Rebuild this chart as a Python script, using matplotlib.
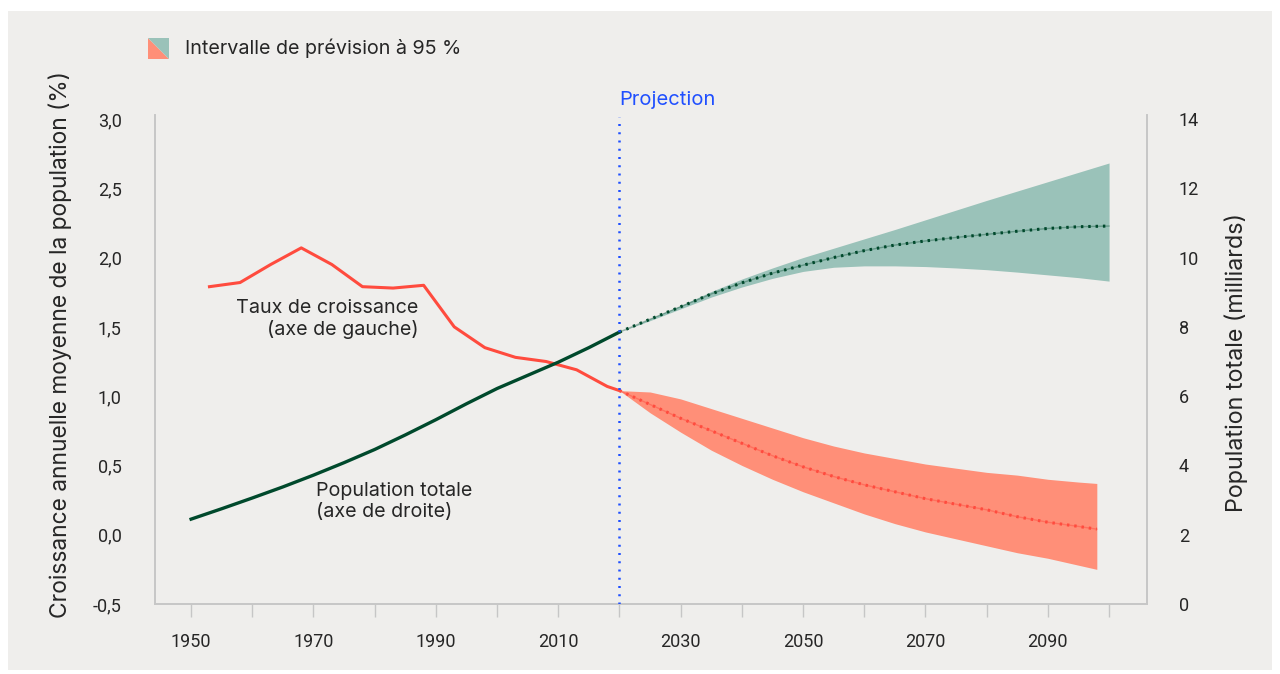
import matplotlib
matplotlib.use("Agg")
import matplotlib.pyplot as plt
from matplotlib.patches import Polygon, Rectangle
from matplotlib.ticker import FuncFormatter

# taux de croissance annuel moyen (%), axe de gauche
annees_taux = [1953, 1958, 1963, 1968, 1973, 1978, 1983, 1988, 1993, 1998,
               2003, 2008, 2013, 2018, 2020]
taux = [1.79, 1.82, 1.95, 2.07, 1.95, 1.79, 1.78, 1.80, 1.50, 1.35,
        1.28, 1.25, 1.19, 1.07, 1.04]

annees_proj_taux = [2020, 2025, 2030, 2035, 2040, 2045, 2050, 2055, 2060,
                    2065, 2070, 2075, 2080, 2085, 2090, 2095, 2098]
taux_med = [1.04, 0.94, 0.84, 0.75, 0.66, 0.57, 0.49, 0.42, 0.36,
            0.31, 0.26, 0.22, 0.18, 0.13, 0.09, 0.06, 0.04]
taux_haut = [1.04, 1.03, 0.98, 0.91, 0.84, 0.77, 0.70, 0.64, 0.59,
             0.55, 0.51, 0.48, 0.45, 0.43, 0.40, 0.38, 0.37]
taux_bas = [1.04, 0.88, 0.74, 0.61, 0.50, 0.40, 0.31, 0.23, 0.15,
            0.08, 0.02, -0.03, -0.08, -0.13, -0.17, -0.22, -0.25]

# population totale (milliards), axe de droite
annees_pop = [1950, 1955, 1960, 1965, 1970, 1975, 1980, 1985, 1990, 1995,
              2000, 2005, 2010, 2015, 2020]
pop = [2.45, 2.75, 3.06, 3.38, 3.72, 4.08, 4.46, 4.88, 5.32, 5.78,
       6.22, 6.60, 6.98, 7.40, 7.85]

annees_proj_pop = [2020, 2025, 2030, 2035, 2040, 2045, 2050, 2055, 2060,
                   2065, 2070, 2075, 2080, 2085, 2090, 2095, 2100]
pop_med = [7.85, 8.22, 8.58, 8.95, 9.27, 9.55, 9.78, 10.00, 10.20,
           10.36, 10.48, 10.58, 10.67, 10.76, 10.84, 10.89, 10.91]
pop_haut = [7.85, 8.24, 8.62, 9.02, 9.38, 9.70, 10.00, 10.27, 10.54,
            10.81, 11.09, 11.37, 11.65, 11.92, 12.19, 12.46, 12.73]
pop_bas = [7.85, 8.18, 8.52, 8.86, 9.15, 9.40, 9.60, 9.72, 9.76,
           9.76, 9.74, 9.70, 9.65, 9.58, 9.50, 9.42, 9.32]

ticks_x = list(range(1950, 2101, 10))
labels_x = [str(a) if (a - 1950) % 20 == 0 else "" for a in ticks_x]
ticks_taux = [-0.5, 0.0, 0.5, 1.0, 1.5, 2.0, 2.5, 3.0]
ticks_pop = [0, 2, 4, 6, 8, 10, 12, 14]

rouge = "#ff4b3e"
saumon = "#ff8f78"
vert = "#00492c"
sarcelle = "#9ac2b9"
bleu = "#1f4fff"
fond = "#efeeec"
texte = "#262626"
gris = "#c6c6c6"

police = ["Inter", "DejaVu Sans"]
police_ticks = ["Liberation Sans Narrow", "Roboto", "DejaVu Sans"]
plt.rcParams["font.family"] = police

fig = plt.figure(figsize=(12.8, 6.74), dpi=100)
fig.patch.set_facecolor("white")
fig.patches.append(Rectangle((8 / 1280, 4 / 674), 1264 / 1280, 659 / 674,
                             transform=fig.transFigure, facecolor=fond,
                             edgecolor="none", zorder=-10))

ax = fig.add_axes([155 / 1280, 70 / 674, 992 / 1280, 489 / 674])
ax.set_facecolor("none")
ax2 = ax.twinx()

ax.set_xlim(1944.1, 2106.2)
ax.set_ylim(-0.5, 3.029)
ax2.set_ylim(0, 14.115)

# bandes d'incertitude
ax.fill_between(annees_proj_taux, taux_bas, taux_haut, color=saumon,
                linewidth=0, zorder=1)
ax2.fill_between(annees_proj_pop, pop_bas, pop_haut, color=sarcelle,
                 linewidth=0, zorder=1)

# courbes observées
ax.plot(annees_taux, taux, color=rouge, linewidth=2.2, zorder=3)
ax2.plot(annees_pop, pop, color=vert, linewidth=2.4, zorder=3)

# projections médianes
ax.plot(annees_proj_taux, taux_med, color=rouge, linewidth=1.0, alpha=0.45,
        zorder=3)
ax.plot(annees_proj_taux, taux_med, color=rouge, linewidth=2.2,
        linestyle=(0, (0.8, 1.6)), zorder=4)
ax2.plot(annees_proj_pop, pop_med, color=vert, linewidth=1.0, alpha=0.35,
         zorder=3)
ax2.plot(annees_proj_pop, pop_med, color=vert, linewidth=2.2,
         linestyle=(0, (0.8, 1.6)), zorder=4)

# ligne verticale de projection
ax2.axvline(2020, ymin=0, ymax=0.995, color=bleu, linewidth=1.8,
            linestyle=(0, (0.8, 2.5)), zorder=5)
ax2.text(2020, 14.3, "Projection", color=bleu, fontsize=14.5,
         ha="left", va="bottom", family=police)

# axes
for a in (ax, ax2):
    for s in a.spines.values():
        s.set_color(gris)
        s.set_linewidth(1.2)
    a.spines["top"].set_visible(False)

ax.set_xticks(ticks_x)
ax.set_xticklabels(labels_x)
ax.tick_params(axis="x", length=9, width=1, color=gris, pad=12,
               labelsize=13, labelcolor=texte)
ax.set_yticks(ticks_taux)
ax.yaxis.set_major_formatter(FuncFormatter(lambda v, p: f"{v:.1f}".replace(".", ",")))
ax.tick_params(axis="y", length=0, pad=24, labelsize=13, labelcolor=texte)
ax2.set_yticks(ticks_pop)
ax2.tick_params(axis="y", length=0, pad=23, labelsize=13, labelcolor=texte)
for lab in ax.get_xticklabels() + ax.get_yticklabels() + ax2.get_yticklabels():
    lab.set_family(police_ticks)

# titres d'axes
fig.text(60 / 1280, 1 - 344 / 674,
         "Croissance annuelle moyenne de la population (%)",
         rotation=90, ha="center", va="center", fontsize=16.4, color=texte)
fig.text(1236 / 1280, 1 - 362 / 674, "Population totale (milliards)",
         rotation=90, ha="center", va="center", fontsize=16.8, color=texte)

# annotations
ax.text(1987.1, 1.56, "Taux de croissance\n(axe de gauche)", ha="right",
        va="center", fontsize=14.2, color=texte, linespacing=1.2)
ax.text(1970.4, 0.24, "Population totale\n(axe de droite)", ha="left",
        va="center", fontsize=14.2, color=texte, linespacing=1.2)

# légende
x0, y0, c = 148 / 1280, 1 - 59 / 674, 21
w, h = c / 1280, c / 674
fig.patches.append(Polygon([(x0, y0 + h), (x0, y0), (x0 + w, y0)],
                           closed=True, transform=fig.transFigure,
                           facecolor=saumon, edgecolor="none"))
fig.patches.append(Polygon([(x0, y0 + h), (x0 + w, y0 + h), (x0 + w, y0)],
                           closed=True, transform=fig.transFigure,
                           facecolor=sarcelle, edgecolor="none"))
fig.text(185 / 1280, 1 - 48 / 674, "Intervalle de prévision à 95 %",
         ha="left", va="center", fontsize=14.2, color=texte)

fig.savefig("out.png", dpi=100, facecolor=fig.get_facecolor())
